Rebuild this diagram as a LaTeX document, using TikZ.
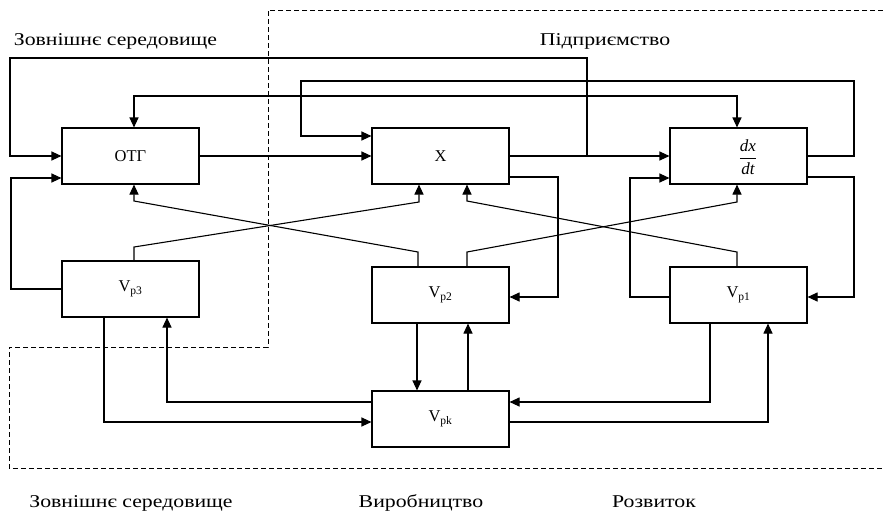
\documentclass[tikz,border=0pt]{standalone}
\usepackage{fontspec}
\setmainfont{Liberation Serif}
\usetikzlibrary{arrows.meta,calc}
\newcommand\widetxt[1]{\scalebox{1.21}[1]{#1}}
\begin{document}
\begin{tikzpicture}[x=1pt,y=-1pt,
  blk/.style={draw,line width=1.1pt,minimum width=137pt,minimum height=56pt,inner sep=0pt,font=\fontsize{16.5}{19}\selectfont},
  ln/.style={line width=1.1pt},
  arr/.style={ln,-{Triangle[length=10pt,width=9pt]}},
  barr/.style={ln,{Triangle[length=10pt,width=9pt]}-{Triangle[length=10pt,width=9pt]}},
  bnd/.style={line width=0.9pt,dash pattern=on 5pt off 3pt},
  lbl/.style={font=\fontsize{18}{21}\selectfont,anchor=base,inner sep=0pt}
]
\useasboundingbox[fill=white] (0,0) rectangle (883,512);

% boundary
\draw[bnd] (883,10) -- (268,10) -- (268,347) -- (9,347) -- (9,468) -- (883,468);

% labels
\node[lbl] (lz1) at (115.5,45) {\widetxt{Зовнішнє середовище}};
\node[lbl] (lp) at (605,45) {\widetxt{Підприємство}};
\node[lbl] (lz2) at (131,507) {\widetxt{Зовнішнє середовище}};
\node[lbl] (lv) at (421,507) {\widetxt{Виробництво}};
\node[lbl] (lr) at (654,507) {\widetxt{Розвиток}};

% blocks
\node[blk] (otg) at (130.5,156) {ОТГ};
\node[blk] (x) at (440.5,156) {X};
\node[blk] (dxdt) at (738.5,156) {};
\node[font=\fontsize{17}{19}\selectfont,inner sep=0pt] (frac) at (748,157) {$\displaystyle\frac{\textit{dx}}{\textit{dt}}$};
\node[blk] (vp3) at (130.5,289) {V\textsubscript{p3}};
\node[blk] (vp2) at (440.5,295) {V\textsubscript{p2}};
\node[blk] (vp1) at (738.5,295) {V\textsubscript{p1}};
\node[blk] (vpk) at (440.5,419) {V\textsubscript{pk}};

% main horizontal flow
\draw[arr] (otg.east) -- (x.west);
\draw[arr] (x.east) -- (dxdt.west);
\coordinate (br) at (587,156);

% top feedback loops
\draw[arr] (br) |- (10,58) |- (otg.west);
\draw[arr] (dxdt.east) -| (854,81) -- (301,81) |- ([yshift=20pt]x.west);
\draw[barr] ([xshift=3.5pt]otg.north) |- (400,96) -| ([xshift=-1.5pt]dxdt.north);

% Vp3 to OTG left
\draw[arr] (vp3.west) -| (11,178) -- ([yshift=-22pt]otg.west);

% crossing lines
\draw[arr] ([xshift=3.5pt]vp3.north) -- (134,247) -- (419,202) -- ([xshift=-21.5pt]x.south);
\draw[arr] ([xshift=-22.5pt]vp2.north) -- (418,252) -- (134,201) -- ([xshift=3.5pt]otg.south);
\draw[arr] ([xshift=26.5pt]vp2.north) -- (467,252) -- (737,202) -- ([xshift=-1.5pt]dxdt.south);
\draw[arr] ([xshift=-1.5pt]vp1.north) -- (737,252) -- (467,201) -- ([xshift=26.5pt]x.south);

% right side loops
\draw[arr] ([yshift=-21pt]x.east) -| (558,250) |- ([yshift=-2pt]vp2.east);
\draw[arr] ([yshift=-21pt]dxdt.east) -| (854,250) |- ([yshift=-2pt]vp1.east);
\draw[arr] ([yshift=-2pt]vp1.west) -| (630,250) |- ([yshift=-22pt]dxdt.west);

% Vp2 <-> Vpk
\draw[arr] ([xshift=-23.5pt]vp2.south) -- ([xshift=-23.5pt]vpk.north);
\draw[arr] ([xshift=27.5pt]vpk.north) -- ([xshift=27.5pt]vp2.south);

% bottom loops
\draw[arr] ([xshift=-26.5pt]vp3.south) |- ([yshift=-3pt]vpk.west);
\draw[arr] ([yshift=17pt]vpk.west) -| ([xshift=36.5pt]vp3.south);
\draw[arr] ([xshift=-28.5pt]vp1.south) |- ([yshift=17pt]vpk.east);
\draw[arr] ([yshift=-3pt]vpk.east) -| ([xshift=29.5pt]vp1.south);
\end{tikzpicture}
\end{document}
